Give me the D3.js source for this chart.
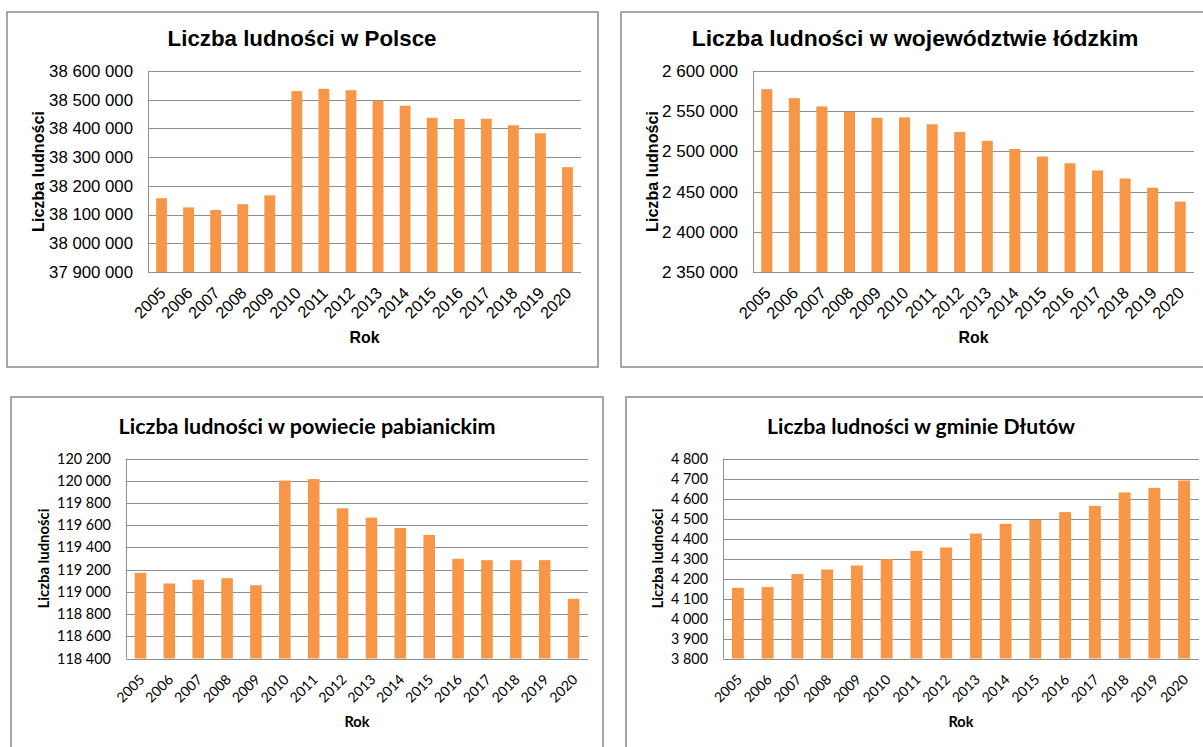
<!DOCTYPE html>
<html>
<head>
<meta charset="utf-8">
<script src="https://cdn.jsdelivr.net/npm/d3@7"></script>
<style>
  body { margin: 0; background: #ffffff; }
  svg { display: block; }
</style>
</head>
<body>
<svg id="svg"></svg>
<script>
const years = ["2005", "2006", "2007", "2008", "2009", "2010", "2011", "2012",
               "2013", "2014", "2015", "2016", "2017", "2018", "2019", "2020"];

const polskaValues = [38157000, 38125000, 38116000, 38136000, 38167000, 38530000, 38538000, 38533000,
                      38496000, 38479000, 38437000, 38433000, 38434000, 38411000, 38383000, 38265000];
const lodzkieValues = [2577500, 2566200, 2555900, 2548900, 2541800, 2542300, 2533700, 2524200,
                       2513100, 2503000, 2493600, 2485300, 2476300, 2466300, 2454800, 2437500];
const pabianickiValues = [119171, 119075, 119108, 119123, 119060, 120001, 120015, 119752,
                          119668, 119575, 119512, 119297, 119285, 119285, 119285, 118937];
const dlutowValues = [4153, 4157, 4222, 4245, 4265, 4297, 4338, 4355,
                      4425, 4473, 4493, 4532, 4563, 4630, 4653, 4690];

const polskaTicks = [37900000, 38000000, 38100000, 38200000, 38300000, 38400000, 38500000, 38600000];
const lodzkieTicks = [2350000, 2400000, 2450000, 2500000, 2550000, 2600000];
const pabianickiTicks = [118400, 118600, 118800, 119000, 119200, 119400, 119600, 119800, 120000, 120200];
const dlutowTicks = [3800, 3900, 4000, 4100, 4200, 4300, 4400, 4500, 4600, 4700, 4800];

const titles = ["Liczba ludności w Polsce", "Liczba ludności w województwie łódzkim",
                "Liczba ludności w powiecie pabianickim", "Liczba ludności w gminie Dłutów"];
const xTitle = "Rok";
const yTitle = "Liczba ludności";

const width = 1203;
const height = 747;
const barColor = "#f79646";
const gridColor = "#8f8f8f";

const svg = d3.select("#svg").attr("width", width).attr("height", height);

// liczby z odstepem jako separatorem tysiecy
const plFormat = d3.formatLocale({ decimal: ",", thousands: " ", grouping: [3], currency: ["", ""] }).format(",d");

// dobiera rozmiar czcionki tak, zeby pierwszy tekst mial zadana szerokosc
function fitSize(sel, target) {
    const w = sel.node().getComputedTextLength();
    const size = parseFloat(sel.attr("font-size")) * target / w;
    sel.attr("font-size", size.toFixed(2));
    return size;
}

function drawPanel(values, ticks, title, o) {
    const g = svg.append("g");

    // ramka wykresu
    g.append("rect")
        .attr("x", o.box[0]).attr("y", o.box[1])
        .attr("width", o.box[2]).attr("height", o.box[3])
        .attr("fill", "none")
        .attr("stroke", "#8a8a8a")
        .attr("stroke-width", 1.5);

    const x = d3.scaleBand()
        .domain(years)
        .range([o.left, o.right])
        .paddingInner(0.6)
        .paddingOuter(0.3);

    const y = d3.scaleLinear()
        .domain([ticks[0], ticks[ticks.length - 1]])
        .range([o.bottom, o.top]);

    // linie siatki
    g.selectAll("line.grid")
        .data(ticks)
        .join("line")
        .attr("class", "grid")
        .attr("x1", o.left).attr("x2", o.right)
        .attr("y1", d => Math.round(y(d)) + 0.5)
        .attr("y2", d => Math.round(y(d)) + 0.5)
        .attr("stroke", gridColor)
        .attr("stroke-width", 1);

    g.append("line")
        .attr("x1", Math.round(o.left) + 0.5).attr("x2", Math.round(o.left) + 0.5)
        .attr("y1", o.top).attr("y2", o.bottom)
        .attr("stroke", gridColor);

    // slupki
    g.selectAll("rect.bar")
        .data(values)
        .join("rect")
        .attr("class", "bar")
        .attr("x", (d, i) => x(years[i]))
        .attr("width", x.bandwidth())
        .attr("y", d => y(d))
        .attr("height", d => y(ticks[0]) - y(d))
        .attr("fill", barColor);

    // etykiety osi Y
    const yt = g.selectAll("text.ytick")
        .data(ticks.slice().reverse())
        .join("text")
        .attr("class", "ytick")
        .attr("x", o.left - 15)
        .attr("y", d => y(d))
        .attr("dy", "0.35em")
        .attr("text-anchor", "end")
        .attr("font-family", o.font)
        .attr("font-size", 16)
        .attr("fill", "#000")
        .text(d => plFormat(d));
    const tickSize = fitSize(yt, o.yTickW);

    // etykiety osi X (obrocone)
    g.selectAll("text.xtick")
        .data(years)
        .join("text")
        .attr("class", "xtick")
        .attr("transform", d => `translate(${x(d) + x.bandwidth() / 2 + 5},${o.bottom + 22}) rotate(-45)`)
        .attr("text-anchor", "end")
        .attr("font-family", o.font)
        .attr("font-size", (tickSize * 0.97).toFixed(2))
        .attr("fill", "#000")
        .text(d => d);

    const tt = g.append("text")
        .attr("x", o.titleX)
        .attr("y", o.titleY)
        .attr("text-anchor", "middle")
        .attr("font-family", o.font)
        .attr("font-weight", "bold")
        .attr("font-size", 20)
        .attr("fill", "#000")
        .text(title);
    fitSize(tt, o.titleW);

    const rt = g.append("text")
        .attr("x", (o.left + o.right) / 2)
        .attr("y", o.rokY)
        .attr("text-anchor", "middle")
        .attr("font-family", o.font)
        .attr("font-weight", "bold")
        .attr("font-size", 16)
        .attr("fill", "#000")
        .text(xTitle);
    fitSize(rt, o.rokW);

    const lt = g.append("text")
        .attr("transform", `translate(${o.yTitleX},${(o.top + o.bottom) / 2}) rotate(-90)`)
        .attr("text-anchor", "middle")
        .attr("font-family", o.font)
        .attr("font-weight", "bold")
        .attr("font-size", 16)
        .attr("fill", "#000")
        .text(yTitle);
    fitSize(lt, o.yTitleW);
}

const arial = "'Liberation Sans', Arial, sans-serif";
const calibri = "Lato, 'Open Sans', sans-serif";

drawPanel(polskaValues, polskaTicks, titles[0], {
    box: [7, 12, 591, 355], left: 148, right: 581, top: 71, bottom: 272,
    titleX: 302, titleY: 46, rokY: 343, yTitleX: 44, font: arial,
    titleW: 269, yTickW: 84, rokW: 30, yTitleW: 121
});
drawPanel(lodzkieValues, lodzkieTicks, titles[1], {
    box: [621, 12, 620, 355], left: 753, right: 1194, top: 71, bottom: 272,
    titleX: 915, titleY: 46, rokY: 343, yTitleX: 658, font: arial,
    titleW: 447, yTickW: 76, rokW: 30, yTitleW: 121
});
drawPanel(pabianickiValues, pabianickiTicks, titles[2], {
    box: [11, 397, 592, 400], left: 126, right: 588, top: 458.5, bottom: 658.5,
    titleX: 307, titleY: 434, rokY: 727, yTitleX: 49, font: calibri,
    titleW: 377, yTickW: 54, rokW: 25, yTitleW: 100
});
drawPanel(dlutowValues, dlutowTicks, titles[3], {
    box: [626, 397, 620, 400], left: 723, right: 1199, top: 458.5, bottom: 658.5,
    titleX: 921, titleY: 434, rokY: 727, yTitleX: 663, font: calibri,
    titleW: 308, yTickW: 37, rokW: 25, yTitleW: 100
});
</script>
</body>
</html>
